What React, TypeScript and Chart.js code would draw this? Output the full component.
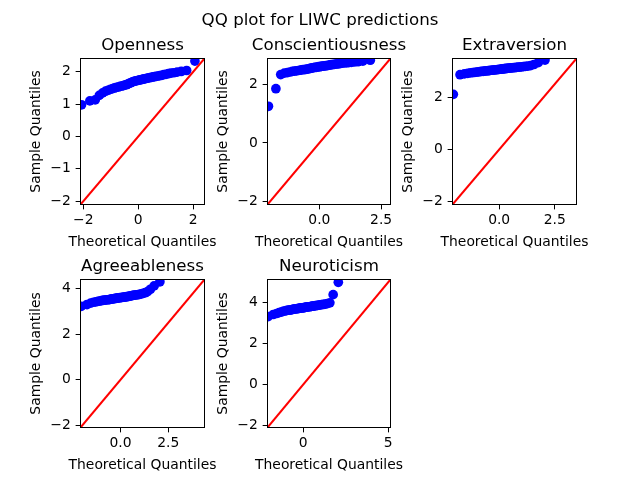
import React, { useEffect, useRef } from "react";
import { Chart, registerables } from "chart.js";

Chart.register(...registerables);

// ---------- data ----------
const THEORETICAL_QUANTILES = [
  -2.062, -1.76, -1.565, -1.416, -1.293, -1.187, -1.093, -1.007, -0.929, -0.856,
  -0.786, -0.722, -0.659, -0.599, -0.541, -0.485, -0.431, -0.377, -0.325, -0.274,
  -0.223, -0.173, -0.123, -0.074, -0.025, 0.025, 0.074, 0.123, 0.173, 0.223,
  0.274, 0.325, 0.377, 0.431, 0.485, 0.541, 0.599, 0.659, 0.722, 0.786,
  0.856, 0.929, 1.007, 1.093, 1.187, 1.293, 1.416, 1.565, 1.76, 2.062,
];

const OPENNESS_SAMPLE = [
  0.98, 1.1, 1.13, 1.27, 1.35, 1.4, 1.43, 1.46, 1.48, 1.5,
  1.52, 1.53, 1.55, 1.56, 1.57, 1.59, 1.6, 1.62, 1.64, 1.66,
  1.68, 1.7, 1.71, 1.72, 1.73, 1.74, 1.75, 1.76, 1.77, 1.78,
  1.79, 1.8, 1.81, 1.82, 1.83, 1.84, 1.85, 1.86, 1.87, 1.88,
  1.89, 1.91, 1.92, 1.94, 1.96, 1.97, 1.99, 2.01, 2.04, 2.33,
];

const CONSCIENTIOUSNESS_SAMPLE = [
  1.25, 1.85, 2.33, 2.38, 2.4, 2.42, 2.44, 2.45, 2.46, 2.47,
  2.48, 2.49, 2.5, 2.5, 2.51, 2.52, 2.53, 2.54, 2.55, 2.56,
  2.57, 2.58, 2.58, 2.59, 2.6, 2.6, 2.61, 2.62, 2.62, 2.63,
  2.64, 2.64, 2.65, 2.66, 2.67, 2.67, 2.68, 2.69, 2.7, 2.7,
  2.71, 2.72, 2.73, 2.73, 2.74, 2.75, 2.76, 2.77, 2.79, 2.82,
];

const EXTRAVERSION_SAMPLE = [
  2.11, 2.86, 2.89, 2.91, 2.93, 2.94, 2.95, 2.96, 2.97, 2.98,
  2.99, 2.99, 3.0, 3.01, 3.01, 3.02, 3.02, 3.03, 3.03, 3.04,
  3.04, 3.05, 3.05, 3.06, 3.06, 3.07, 3.07, 3.08, 3.08, 3.09,
  3.09, 3.1, 3.1, 3.11, 3.11, 3.12, 3.12, 3.13, 3.13, 3.14,
  3.15, 3.15, 3.16, 3.17, 3.18, 3.19, 3.21, 3.25, 3.32, 3.42,
];

const AGREEABLENESS_SAMPLE = [
  3.22, 3.3, 3.36, 3.4, 3.42, 3.44, 3.45, 3.47, 3.48, 3.49,
  3.5, 3.51, 3.51, 3.52, 3.53, 3.54, 3.55, 3.55, 3.56, 3.57,
  3.57, 3.58, 3.59, 3.59, 3.6, 3.61, 3.61, 3.62, 3.63, 3.63,
  3.64, 3.65, 3.65, 3.66, 3.67, 3.68, 3.69, 3.7, 3.71, 3.72,
  3.73, 3.74, 3.75, 3.77, 3.79, 3.82, 3.87, 3.97, 4.12, 4.3,
];

const NEUROTICISM_SAMPLE = [
  3.32, 3.42, 3.47, 3.51, 3.54, 3.57, 3.59, 3.61, 3.62, 3.63,
  3.64, 3.65, 3.66, 3.67, 3.68, 3.69, 3.7, 3.7, 3.71, 3.72,
  3.72, 3.73, 3.74, 3.74, 3.75, 3.76, 3.76, 3.77, 3.78, 3.78,
  3.79, 3.8, 3.8, 3.81, 3.82, 3.83, 3.83, 3.84, 3.85, 3.86,
  3.87, 3.88, 3.89, 3.9, 3.91, 3.93, 3.95, 3.99, 4.39, 4.99,
];

const PANEL_TITLES = ["Openness", "Conscientiousness", "Extraversion", "Agreeableness", "Neuroticism"];
const SAMPLE_SERIES = [
  OPENNESS_SAMPLE,
  CONSCIENTIOUSNESS_SAMPLE,
  EXTRAVERSION_SAMPLE,
  AGREEABLENESS_SAMPLE,
  NEUROTICISM_SAMPLE,
];
// shared x/y limits per panel (45-degree reference line runs corner to corner)
const AXIS_LIMITS = [
  [-2.1, 2.41],
  [-2.1, 2.88],
  [-2.1, 3.48],
  [-2.1, 4.4],
  [-2.1, 5.13],
];
const X_TICK_VALUES = [[-2, 0, 2], [0, 2.5], [0, 2.5], [0, 2.5], [0, 5]];
const X_TICK_DECIMALS = [0, 1, 1, 1, 0];
const Y_TICK_VALUES = [[-2, -1, 0, 1, 2], [-2, 0, 2], [-2, 0, 2], [-2, 0, 2, 4], [-2, 0, 2, 4]];

const SUPTITLE = "QQ plot for LIWC predictions";
const X_LABEL = "Theoretical Quantiles";
const Y_LABEL = "Sample Quantiles";

// ---------- layout / style ----------
const FONT = "'DejaVu Sans', sans-serif";
// axes boxes: left, top, right, bottom (spine centre lines, page px)
const PANEL_BOXES = [
  [80.5, 58.5, 204.5, 204.5],
  [267.5, 58.5, 390.5, 204.5],
  [452.5, 58.5, 576.5, 204.5],
  [80.5, 279.5, 204.5, 427.5],
  [267.5, 279.5, 390.5, 427.5],
];
const W = 640;
const H = 480;
const BAND = 40;

function fmt(v: number, dec: number) {
  return v.toFixed(dec).replace("-", "\u2212");
}

function QQPanel({ index }: { index: number }) {
  const ref = useRef<HTMLCanvasElement>(null);

  useEffect(() => {
    const canvas = ref.current;
    if (!canvas) return;
    const [left, top, right, bottom] = PANEL_BOXES[index];
    const [lo, hi] = AXIS_LIMITS[index];
    const ys = SAMPLE_SERIES[index];
    const points = THEORETICAL_QUANTILES.map((x, i) => ({ x, y: ys[i] }));

    const labelsPlugin = {
      id: "qqLabels" + index,
      afterDraw(chart: any) {
        const ctx = chart.ctx as CanvasRenderingContext2D;
        const a = chart.chartArea;
        ctx.save();
        ctx.strokeStyle = "#000";
        ctx.lineWidth = 1;
        ctx.strokeRect(a.left, a.top, a.right - a.left, a.bottom - a.top);
        ctx.fillStyle = "#000";
        ctx.textBaseline = "alphabetic";
        ctx.textAlign = "center";
        const cx = (a.left + a.right) / 2;
        const cy = (a.top + a.bottom) / 2;
        ctx.font = `16.67px ${FONT}`;
        ctx.fillText(PANEL_TITLES[index], cx, a.top - 8.3);
        if (index === 0) ctx.fillText(SUPTITLE, W / 2, 24.6);
        ctx.font = `13.89px ${FONT}`;
        ctx.fillText(X_LABEL, cx, a.bottom + 41.4);
        ctx.translate(a.left - 40.8, cy);
        ctx.rotate(-Math.PI / 2);
        ctx.fillText(Y_LABEL, 0, 0);
        ctx.restore();
      },
    };

    const tickFont = { family: FONT, size: 13.89 };

    const chart = new Chart(canvas, {
      type: "scatter",
      data: {
        datasets: [
          {
            data: [
              { x: lo, y: lo },
              { x: hi, y: hi },
            ],
            showLine: true,
            borderColor: "#ff0000",
            borderWidth: 2.08,
            pointRadius: 0,
            pointHoverRadius: 0,
            fill: false,
          } as any,
          {
            data: points,
            backgroundColor: "#0000ff",
            borderColor: "#0000ff",
            borderWidth: 0,
            pointRadius: 4.85,
            pointHoverRadius: 4.85,
          },
        ],
      },
      options: {
        responsive: false,
        animation: false,
        events: [],
        layout: {
          padding: {
            left: left - BAND,
            top: top,
            right: W - right,
            bottom: H - bottom - BAND,
          },
        },
        plugins: {
          legend: { display: false },
          tooltip: { enabled: false },
          title: { display: false },
        },
        scales: {
          x: {
            type: "linear",
            position: "bottom",
            min: lo,
            max: hi,
            afterFit: (s: any) => {
              s.height = BAND;
            },
            afterBuildTicks: (s: any) => {
              s.ticks = X_TICK_VALUES[index].map((v) => ({ value: v }));
            },
            ticks: {
              callback: (v: any) => fmt(Number(v), X_TICK_DECIMALS[index]),
              font: tickFont,
              color: "#000",
              padding: 3,
              maxRotation: 0,
              autoSkip: false,
            },
            grid: {
              drawOnChartArea: false,
              drawTicks: true,
              tickLength: 4.86,
              color: "#000",
              lineWidth: 1,
            },
            border: { display: false },
          },
          y: {
            type: "linear",
            position: "left",
            min: lo,
            max: hi,
            afterFit: (s: any) => {
              s.width = BAND;
            },
            afterBuildTicks: (s: any) => {
              s.ticks = Y_TICK_VALUES[index].map((v) => ({ value: v }));
            },
            ticks: {
              callback: (v: any) => fmt(Number(v), 0),
              font: tickFont,
              color: "#000",
              padding: 4.9,
              autoSkip: false,
            },
            grid: {
              drawOnChartArea: false,
              drawTicks: true,
              tickLength: 4.86,
              color: "#000",
              lineWidth: 1,
            },
            border: { display: false },
          },
        },
      } as any,
      plugins: [labelsPlugin],
    });

    return () => {
      chart.destroy();
    };
  }, [index]);

  return (
    <canvas
      ref={ref}
      width={W}
      height={H}
      style={{ position: "absolute", left: 0, top: 0, width: W, height: H }}
    />
  );
}

export default function App() {
  return (
    <div
      style={{
        position: "absolute",
        left: 0,
        top: 0,
        width: W,
        height: H,
        background: "#ffffff",
        overflow: "hidden",
      }}
    >
      {PANEL_TITLES.map((_, i) => (
        <QQPanel key={i} index={i} />
      ))}
    </div>
  );
}
